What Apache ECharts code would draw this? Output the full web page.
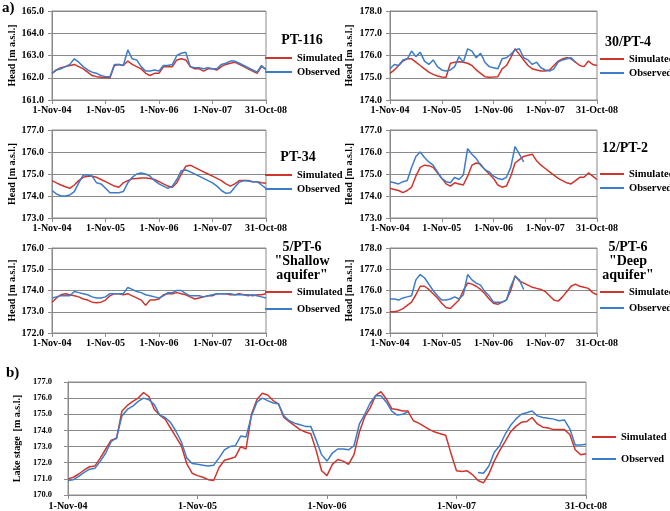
<!DOCTYPE html>
<html><head><meta charset="utf-8">
<script src="https://cdn.jsdelivr.net/npm/echarts@6/dist/echarts.min.js"></script>
<style>html,body{margin:0;padding:0;background:#fff}#c{width:670px;height:511px}</style>
</head><body><div id="c"></div>
<script>
// ---- DATA (x = months since 1-Nov-04; small panels monthly, lake half-monthly) ----
const xTickLabels = ['1-Nov-04','1-Nov-05','1-Nov-06','1-Nov-07','31-Oct-08'];
const seriesNames = ['Simulated','Observed'];
const panelTitles = ['PT-116','30/PT-4','PT-34','12/PT-2','5/PT-6\n"Shallow\naquifer"','5/PT-6\n"Deep\naquifer"'];

const pt116Sim = [162.2,162.35,162.45,162.5,162.55,162.6,162.5,162.4,162.25,162.1,
  162.05,162.02,162.0,162.0,162.55,162.6,162.55,162.75,162.6,162.5,
  162.4,162.2,162.1,162.2,162.2,162.5,162.5,162.5,162.8,162.85,
  162.8,162.5,162.4,162.4,162.3,162.4,162.4,162.35,162.5,162.6,
  162.65,162.7,162.6,162.5,162.4,162.3,162.2,162.5,162.4];
const pt116Obs = [162.2,162.35,162.4,162.5,162.6,162.85,162.7,162.5,162.35,162.25,
  162.2,162.1,162.05,162.05,162.6,162.6,162.55,163.25,162.85,162.8,
  162.5,162.3,162.3,162.35,162.3,162.55,162.55,162.6,163.0,163.1,
  163.15,162.5,162.45,162.45,162.4,162.45,162.4,162.4,162.6,162.65,
  162.75,162.75,162.65,162.55,162.45,162.35,162.25,162.55,162.35];

const pt4Sim = [175.2,175.35,175.55,175.75,175.85,175.85,175.7,175.55,175.4,175.25,
  175.15,175.08,175.03,175.02,175.65,175.7,175.72,175.7,175.65,175.55,
  175.35,175.2,175.05,175.02,175.03,175.05,175.4,175.55,175.9,176.3,
  176.05,175.8,175.55,175.4,175.35,175.3,175.3,175.35,175.55,175.75,
  175.85,175.9,175.85,175.7,175.55,175.5,175.75,175.6,175.55];
const pt4Obs = [175.4,175.6,175.55,175.8,175.85,176.2,175.95,176.15,175.75,175.6,
  175.8,175.5,175.35,175.3,175.35,175.5,175.95,175.7,176.3,176.2,
  175.9,176.1,175.7,175.5,175.45,175.4,175.85,175.9,176.05,176.25,
  176.3,175.9,175.8,175.6,175.7,175.45,175.35,175.3,175.4,175.7,
  175.8,175.85,175.9,175.7,null,null,null,null,null];

const pt34Sim = [174.7,174.6,174.5,174.42,174.35,174.5,174.7,174.85,174.9,174.9,
  174.85,174.75,174.65,174.55,174.45,174.4,174.6,174.7,174.78,174.8,
  174.82,174.82,174.8,174.75,174.65,174.55,174.45,174.4,174.6,175.0,
  175.35,175.4,175.3,175.2,175.1,175.0,174.9,174.8,174.7,174.55,
  174.45,174.55,174.7,174.7,174.7,174.65,174.65,174.6,174.58];
const pt34Obs = [174.25,174.1,174.0,174.0,174.05,174.2,174.6,174.95,174.95,174.9,
  174.6,174.55,174.35,174.15,174.15,174.15,174.2,174.6,174.85,175.0,
  175.05,175.0,174.9,174.7,174.55,174.45,174.35,174.45,174.75,175.15,
  175.18,175.1,175.0,174.9,174.8,174.7,174.6,174.45,174.25,174.12,
  174.15,174.4,174.62,174.7,174.68,174.65,174.65,174.5,174.35];

const pt2Sim = [174.35,174.3,174.25,174.15,174.25,174.4,174.9,175.3,175.4,175.38,
  175.3,175.05,174.8,174.55,174.45,174.6,174.55,174.5,174.9,175.4,
  175.5,175.45,175.2,175.0,174.8,174.5,174.4,174.45,174.9,175.5,
  175.65,175.8,175.85,175.9,175.6,175.4,175.25,175.1,174.95,174.8,
  174.7,174.6,174.55,174.7,174.85,174.85,175.05,174.9,174.75];
const pt2Obs = [174.65,174.6,174.55,174.65,174.7,175.3,175.8,176.0,175.75,175.55,
  175.4,175.1,174.8,174.65,174.6,174.85,174.75,174.95,176.15,175.9,
  175.7,175.4,175.2,175.1,174.9,174.8,174.75,174.85,175.3,176.25,
  175.9,175.55,null,null,null,null,null,null,null,null,
  null,null,null,null,null,null,null,null,null];

const shallowSim = [173.45,173.65,173.8,173.85,173.8,173.75,173.7,173.6,173.55,173.45,
  173.42,173.45,173.55,173.75,173.85,173.85,173.8,173.85,173.75,173.65,
  173.55,173.3,173.55,173.55,173.6,173.8,173.85,173.85,173.9,173.85,
  173.8,173.7,173.6,173.65,173.7,173.75,173.75,173.85,173.85,173.85,
  173.8,173.8,173.85,173.8,173.8,173.75,173.8,173.8,173.85];
const shallowObs = [173.65,173.7,173.75,173.75,173.75,173.95,173.9,173.85,173.8,173.7,
  173.65,173.65,173.7,173.85,173.85,173.85,173.85,174.15,174.05,173.95,
  173.9,173.8,173.75,173.7,173.65,173.75,173.9,173.9,174.0,174.0,
  173.85,173.75,173.75,173.75,173.7,173.75,173.8,173.85,173.85,173.85,
  173.85,173.8,173.8,173.8,173.75,173.8,173.75,173.7,173.65];

const deepSim = [175.0,175.0,175.05,175.15,175.3,175.45,175.8,176.2,176.2,176.05,
  175.85,175.65,175.4,175.2,175.15,175.35,175.55,176.0,176.35,176.3,
  176.2,176.05,175.85,175.6,175.4,175.35,175.45,175.55,176.0,176.7,
  176.45,176.35,176.25,176.15,176.1,176.05,175.95,175.75,175.55,175.5,
  175.7,175.95,176.2,176.3,176.2,176.15,176.1,175.9,175.8];
const deepObs = [175.6,175.6,175.55,175.65,175.7,175.75,176.5,176.75,176.6,176.3,
  176.0,175.75,175.55,175.55,175.6,175.7,175.6,175.8,176.75,176.5,
  176.35,176.25,175.95,175.75,175.45,175.45,175.45,175.55,176.2,176.65,
  176.5,176.05,null,null,null,null,null,null,null,null,
  null,null,null,null,null,null,null,null,null];

const lakeSim = [171.0,171.1,171.3,171.55,171.75,171.8,172.3,172.85,173.4,173.5,
  175.2,175.55,175.8,176.0,176.35,176.1,175.3,174.95,174.7,174.15,
  173.6,173.05,171.95,171.35,171.2,171.1,170.95,170.9,171.7,172.15,
  172.25,172.35,173.0,172.85,175.0,175.9,176.3,176.2,175.85,175.65,
  174.8,174.55,174.3,174.05,173.9,173.8,172.75,171.5,171.2,171.9,
  172.2,172.1,171.9,172.5,173.9,174.85,175.4,176.15,176.4,175.95,
  175.35,175.3,175.2,175.2,174.6,174.45,174.25,174.05,173.9,173.8,
  173.7,172.55,171.5,171.45,171.5,171.25,170.9,170.75,171.3,172.1,
  172.75,173.3,173.9,174.25,174.5,174.55,174.8,174.4,174.2,174.15,
  174.05,174.05,174.05,173.75,172.8,172.5,172.55];
const lakeObs = [170.9,170.95,171.15,171.4,171.6,171.65,172.1,172.6,173.3,173.55,
  174.9,175.3,175.5,175.8,176.0,175.9,175.6,174.95,174.8,174.5,
  173.95,173.3,172.3,171.95,171.9,171.85,171.8,171.85,172.3,172.8,
  173.0,173.05,173.65,173.6,174.9,175.75,176.0,175.85,175.7,175.65,
  174.9,174.6,174.45,174.35,174.25,174.25,173.4,172.5,172.1,172.6,
  172.85,172.85,172.8,173.05,174.4,175.0,175.7,176.15,176.15,175.75,
  175.2,174.95,175.0,175.15,null,null,null,null,null,null,
  null,null,null,null,null,null,171.4,171.35,171.8,172.65,
  173.05,173.75,174.3,174.7,175.0,175.1,175.2,174.9,174.8,174.75,
  174.7,174.6,174.65,174.1,173.1,173.1,173.15];

// ---- LAYOUT / STYLE ----
const FONT = '"Liberation Serif","Times New Roman",serif';
const RED = '#d0342c', BLUE = '#3d7cc9', GRID_C = '#8a8a8a';
const panels = [
  {grid:{left:52,top:11,width:214,height:89}, yr:[161,165], sim:pt116Sim, obs:pt116Obs, step:1,
   lg:{left:265,top:51,gap:0,w:27}, tt:{x:302,top:33}, nameGap:33, yName:'Head [m a.s.l.]'},
  {grid:{left:390,top:11,width:207,height:89}, yr:[174,178], sim:pt4Sim, obs:pt4Obs, step:1,
   lg:{left:600,top:52,gap:0,w:24}, tt:{x:628,top:35}, nameGap:36, yName:'Head [m a.s.l.]'},
  {grid:{left:52,top:130,width:214,height:88}, yr:[173,177], sim:pt34Sim, obs:pt34Obs, step:1,
   lg:{left:265,top:168,gap:0,w:27}, tt:{x:298,top:150}, nameGap:33, yName:'Head [m a.s.l.]'},
  {grid:{left:390,top:130,width:207,height:88}, yr:[173,177], sim:pt2Sim, obs:pt2Obs, step:1,
   lg:{left:600,top:167,gap:0,w:24}, tt:{x:625,top:141}, nameGap:36, yName:'Head [m a.s.l.]'},
  {grid:{left:52,top:248,width:214,height:85}, yr:[172,176], sim:shallowSim, obs:shallowObs, step:1,
   lg:{left:265,top:285,gap:3,w:27}, tt:{x:302,top:240}, nameGap:33, yName:'Head [m a.s.l.]'},
  {grid:{left:390,top:248,width:207,height:85}, yr:[174,178], sim:deepSim, obs:deepObs, step:1,
   lg:{left:600,top:285,gap:2,w:24}, tt:{x:628,top:240}, nameGap:36, yName:'Head [m a.s.l.]'},
  {grid:{left:68,top:382,width:518,height:113}, yr:[170,177], sim:lakeSim, obs:lakeObs, step:0.5,
   lg:{left:592,top:430,gap:8,w:24}, tt:null, nameGap:39, yName:'Lake stage  [m a.s.l.]', lake:true}
];

const grid=[], xAxis=[], yAxis=[], series=[], legend=[], title=[];
panels.forEach((p,i)=>{
  grid.push(Object.assign({show:true,borderColor:GRID_C,borderWidth:1}, p.grid));
  xAxis.push({type:'value', gridIndex:i, min:0, max:48, interval:12,
    axisLine:{show:true,onZero:false,lineStyle:{color:GRID_C}},
    axisTick:{show:true,length:4,lineStyle:{color:GRID_C}},
    splitLine:{show:false},
    axisLabel:{margin:p.lake?6:5, fontFamily:FONT, fontWeight:'bold', fontSize:10, color:'#000',
      formatter:v=>xTickLabels[Math.round(v/12)]}});
  yAxis.push({type:'value', gridIndex:i, min:p.yr[0], max:p.yr[1], interval:1,
    name:p.yName, nameLocation:'middle', nameGap:p.nameGap,
    nameTextStyle:{fontFamily:FONT, fontWeight:'bold', fontSize:10, color:'#000'},
    axisLine:{show:true,lineStyle:{color:GRID_C}},
    axisTick:{show:true,length:4,lineStyle:{color:GRID_C}},
    splitLine:{show:true,lineStyle:{color:GRID_C,width:1}},
    axisLabel:{margin:p.lake?16:8, fontFamily:FONT, fontWeight:'bold', fontSize:p.lake?8.5:10, color:'#000',
      formatter:v=>v.toFixed(1)}});
  const mk = arr => arr.map((v,k)=>[k*p.step, v]);
  series.push({name:seriesNames[0], type:'line', xAxisIndex:i, yAxisIndex:i, data:mk(p.sim),
    showSymbol:false, color:RED, lineStyle:{width:1.5,color:RED}});
  series.push({name:seriesNames[1], type:'line', xAxisIndex:i, yAxisIndex:i, data:mk(p.obs),
    showSymbol:false, color:BLUE, lineStyle:{width:1.5,color:BLUE}});
  legend.push({orient:'vertical', left:p.lg.left, top:p.lg.top, itemGap:p.lg.gap, padding:0,
    itemWidth:p.lg.w, itemHeight:2, icon:'rect', selectedMode:false, data:seriesNames,
    textStyle:{fontFamily:FONT, fontWeight:'bold', fontSize:10.5, color:'#000', lineHeight:14}});
  if (p.tt) title.push({text:panelTitles[i], left:p.tt.x, top:p.tt.top, textAlign:'center', padding:0,
    textStyle:{fontFamily:FONT, fontWeight:'bold', fontSize:14, color:'#000', lineHeight:14}});
});
title.push({text:'a)', left:2, top:1, padding:0, textStyle:{fontFamily:FONT,fontWeight:'bold',fontSize:15,color:'#000'}});
title.push({text:'b)', left:6, top:366, padding:0, textStyle:{fontFamily:FONT,fontWeight:'bold',fontSize:15,color:'#000'}});

const chart = echarts.init(document.getElementById('c'));
chart.setOption({animation:false, backgroundColor:'#fff', title, legend, grid, xAxis, yAxis, series});
</script></body></html>
